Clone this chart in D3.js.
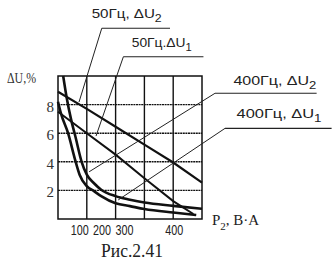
<!DOCTYPE html>
<html><head><meta charset="utf-8">
<script src="https://cdn.jsdelivr.net/npm/d3@7"></script>
<style>html,body{margin:0;padding:0;background:#fff;}svg{display:block;}</style>
</head><body>
<svg id="c" width="333" height="264"></svg>
<script>
// ---- data ----
const xTicks = [100, 200, 300, 400];
const yTicks = [2, 4, 6, 8];
const xTickLabels = ["100", "200", "300", "400"];
const yTickLabels = ["2", "4", "6", "8"];
// 50 Hz, ΔU2 (upper straight line)
const u2_50 = [[0,8.9],[100,7.7],[200,6.45],[300,5.2],[400,3.95],[500,2.55]];
// 50 Hz, ΔU1 (lower straight line)
const u1_50 = [[0,7.5],[100,6.0],[200,4.5],[300,2.85],[400,1.25],[470,0.35]];
// 400 Hz curves
const curveA = [[18,10],[30,8.5],[45,7],[60,5.8],[82,4],[100,3.1],[125,2.5],[150,2.05],[200,1.6],[250,1.35],[300,1.15],[400,0.92],[500,0.72]];
const curveB = [[0,8.2],[10,7.4],[35,6],[60,4.1],[75,3.1],[100,2.3],[125,1.95],[150,1.6],[200,1.1],[250,0.9],[300,0.7],[400,0.45],[480,0.28]];
// annotation labels (text, subscript)
const annTexts = ["50Гц, ΔU", "50Гц.ΔU", "400Гц, ΔU", "400Гц, ΔU"];
const annSubs = ["2", "1", "2", "1"];
// annotation geometry in data units: [textX, textY], underline [x1,x2,y], leader end [x,y]
const annText = [[117,14.03],[256,12.05],[609,9.37],[620,7.04]];
const annLine = [[152,389,13.34],[227,505,11.35],[545,898,8.79],[580,950,6.34]];
const annEnd = [[73,8.18],[132,5.8],[108,3.3],[209,1.33]];
const yTitle = "ΔU,%";
const caption = "Рис.2.41";

// ---- layout ----
const svg = d3.select("#c");
const x = d3.scaleLinear().domain([0, 500]).range([58, 202]);
const y = d3.scaleLinear().domain([0, 10]).range([219, 76]);
const xLabelDx = [-7, -13.5, -20, 1];
const annTextLen = [70, 60, 83, 85];

const g = svg.append("g");
// grid
g.selectAll(".vg").data(xTicks).join("line")
  .attr("x1", d => x(d)).attr("x2", d => x(d)).attr("y1", y(0)).attr("y2", y(10))
  .attr("stroke", "#111").attr("stroke-width", 1.4);
g.selectAll(".hg").data(yTicks).join("line")
  .attr("x1", x(0)).attr("x2", x(500)).attr("y1", d => y(d)).attr("y2", d => y(d))
  .attr("stroke", "#111").attr("stroke-width", 1.4).attr("stroke-dasharray", "2,0.6");
// frame
g.append("rect").attr("x", x(0)).attr("y", y(10)).attr("width", x(500) - x(0)).attr("height", y(0) - y(10))
  .attr("fill", "none").attr("stroke", "#111").attr("stroke-width", 1.5);

// axes tick labels
svg.selectAll(".yl").data(yTicks).join("text")
  .attr("x", x(0) - 4).attr("y", d => y(d) + 7)
  .attr("text-anchor", "end").attr("font-family", "Liberation Serif, serif").attr("font-size", 15)
  .attr("fill", "#333").text((d, i) => yTickLabels[i]);
svg.selectAll(".xl").data(xTicks).join("text")
  .attr("x", (d, i) => x(d) + xLabelDx[i]).attr("y", 235)
  .attr("text-anchor", "middle").attr("font-family", "Liberation Sans, sans-serif").attr("font-size", 14)
  .attr("textLength", 18).attr("lengthAdjust", "spacingAndGlyphs")
  .attr("fill", "#222").text((d, i) => xTickLabels[i]);

// lines
const line = d3.line().x(d => x(d[0])).y(d => y(d[1]));
const curve = d3.line().x(d => x(d[0])).y(d => y(d[1])).curve(d3.curveMonotoneX);
svg.append("path").datum(u2_50).attr("d", line).attr("fill", "none").attr("stroke", "#111").attr("stroke-width", 2.2);
svg.append("path").datum(u1_50).attr("d", line).attr("fill", "none").attr("stroke", "#111").attr("stroke-width", 2);
svg.append("path").datum(curveA).attr("d", curve).attr("fill", "none").attr("stroke", "#111").attr("stroke-width", 2.6);
svg.append("path").datum(curveB).attr("d", curve).attr("fill", "none").attr("stroke", "#111").attr("stroke-width", 2.6);

// annotations
annTexts.forEach((t, i) => {
  const [x1, x2, ly] = annLine[i];
  const [ex, ey] = annEnd[i];
  svg.append("line").attr("x1", x(x1)).attr("x2", x(x2)).attr("y1", y(ly)).attr("y2", y(ly))
    .attr("stroke", "#222").attr("stroke-width", 1.1);
  svg.append("line").attr("x1", x(x1)).attr("y1", y(ly)).attr("x2", x(ex)).attr("y2", y(ey))
    .attr("stroke", "#222").attr("stroke-width", 1);
  const tx = svg.append("text").attr("x", x(annText[i][0])).attr("y", y(annText[i][1]))
    .attr("font-family", "Liberation Sans, sans-serif").attr("font-size", 13.5).attr("fill", "#222")
    .attr("textLength", annTextLen[i]).attr("lengthAdjust", "spacingAndGlyphs");
  tx.append("tspan").text(t);
  tx.append("tspan").attr("dy", 4).attr("font-size", 11).text(annSubs[i]);
});

// axis titles
svg.append("text").attr("x", 7).attr("y", 83)
  .attr("font-family", "Liberation Serif, serif").attr("font-size", 14).attr("fill", "#333")
  .attr("textLength", 29).attr("lengthAdjust", "spacingAndGlyphs").text(yTitle);
const pt = svg.append("text").attr("x", 212).attr("y", 225)
  .attr("font-family", "Liberation Serif, serif").attr("font-size", 15).attr("fill", "#222");
pt.append("tspan").text("P");
pt.append("tspan").attr("dy", 5).attr("font-size", 11).text("2");
pt.append("tspan").attr("dy", -5).text(", В·А");
svg.append("text").attr("x", 101).attr("y", 257)
  .attr("font-family", "Liberation Serif, serif").attr("font-size", 19).attr("fill", "#222")
  .attr("textLength", 62).attr("lengthAdjust", "spacingAndGlyphs").text(caption);
</script>
</body></html>
